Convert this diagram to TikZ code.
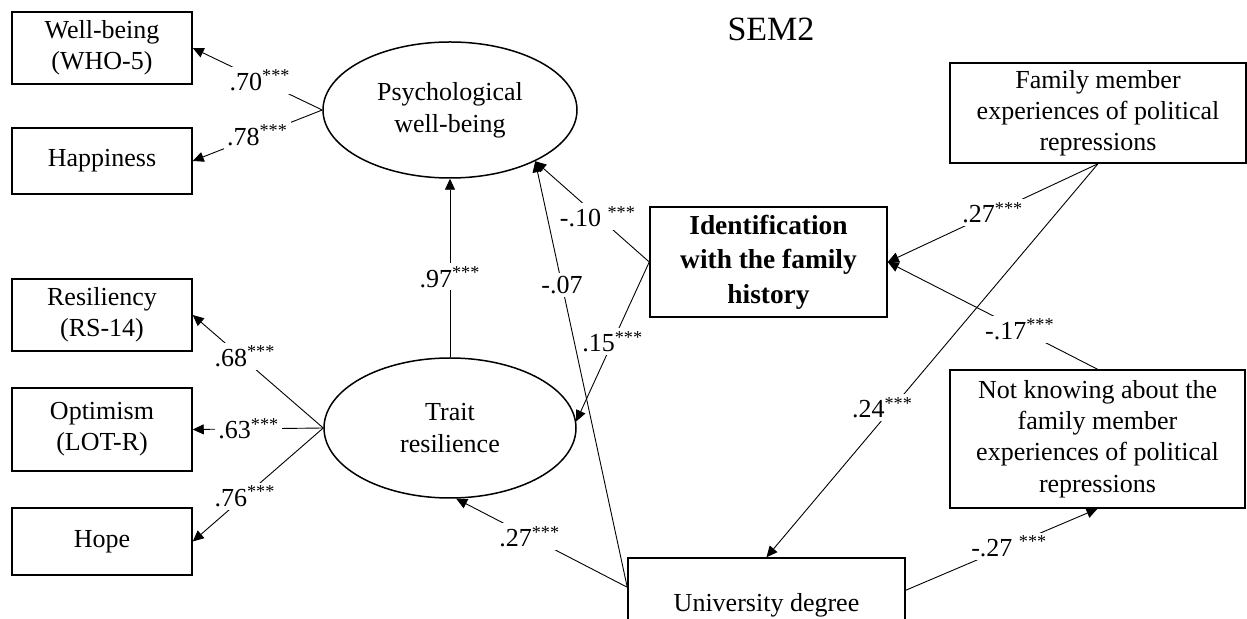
\documentclass[tikz,border=0pt]{standalone}
\usepackage{fontspec}
\setmainfont{Liberation Serif}
\usetikzlibrary{arrows.meta,shapes.geometric,calc}
\begin{document}
\begin{tikzpicture}[x=0.5pt,y=-0.5pt,
  box/.style={draw,line width=0.75pt,rectangle,inner sep=0pt,align=center,font=\fontsize{13pt}{15.6pt}\selectfont},
  boldbox/.style={box,font=\fontsize{13.7pt}{17.3pt}\selectfont\bfseries},
  lat/.style={draw,line width=0.75pt,ellipse,inner sep=0pt,align=center,font=\fontsize{13pt}{16pt}\selectfont},
  conn/.style={line width=0.45pt,-{Triangle[length=5.5pt,width=5pt]}},
  lbl/.style={fill=white,inner sep=1.5pt,font=\fontsize{13pt}{14pt}\selectfont}]
\useasboundingbox (0,0) rectangle (1247,619);
\clip (0,0) rectangle (1247,619);
% title
\node[font=\fontsize{17pt}{20pt}\selectfont] (title) at (771,29) {SEM2};
% indicators
\node[box,minimum width=90pt,minimum height=36pt] (wb) at (102,48) {Well-being\\(WHO-5)};
\node[box,minimum width=90pt,minimum height=33pt] (happ) at (102,161) {Happiness};
\node[box,minimum width=90pt,minimum height=36pt] (res) at (102,315) {Resiliency\\(RS-14)};
\node[box,minimum width=90pt,minimum height=41.5pt] (opt) at (102,429.5) {Optimism\\(LOT-R)};
\node[box,minimum width=90pt,minimum height=33.5pt] (hope) at (102,541.5) {Hope};
% latent
\node[lat,minimum width=127pt,minimum height=68pt] (psych) at (450,110) {Psychological\\well-being};
\node[lat,minimum width=126pt,minimum height=70pt] (trait) at (450,428) {Trait\\resilience};
% observed
\node[boldbox,minimum width=118.5pt,minimum height=55pt] (id) at (768.5,262) {Identification\\with the family\\history};
\node[box,minimum width=148pt,minimum height=50pt] (fam) at (1098,113) {Family member\\experiences of political\\repressions};
\node[box,minimum width=147.5pt,minimum height=69pt] (nk) at (1097.5,439) {Not knowing about the\\family member\\experiences of political\\repressions};
\node[box,minimum width=138.5pt,minimum height=47pt] (univ) at (766.5,605) {University degree};
\coordinate (u1) at ($(univ.north west)+(0,30)$);
\coordinate (u2) at ($(univ.north east)+(0,33)$);
% loadings
\draw[conn] (psych.west) -- node[lbl,pos=0.48]{.70\textsuperscript{***}} (wb.east);
\draw[conn] (psych.west) -- node[lbl,pos=0.5]{.78\textsuperscript{***}} (happ.east);
\draw[conn] (trait.west) -- node[lbl,pos=0.6,yshift=2pt]{.68\textsuperscript{***}} (res.east);
\draw[conn] (trait.west) -- node[lbl,pos=0.57]{.63\textsuperscript{***}} (opt.east);
\draw[conn] (trait.west) -- node[lbl,pos=0.6]{.76\textsuperscript{***}} (hope.east);
% structural paths
\draw[conn] (trait.north) -- node[lbl,pos=0.45]{.97\textsuperscript{***}} (psych.south);
\draw[conn] (id.west) -- node[lbl,pos=0.45]{-.10 \textsuperscript{***}} (psych.-31);
\draw[conn] (id.west) -- node[lbl,pos=0.5]{.15\textsuperscript{***}} (trait.3);
\draw[conn] (u1) -- node[lbl,pos=0.71]{-.07} (psych.-31);
\draw[conn] (u1) -- node[lbl,pos=0.57]{.27\textsuperscript{***}} (trait.-85);
\draw[conn] (fam.south) -- node[lbl,pos=0.5]{.27\textsuperscript{***}} (id.east);
\draw[conn] (nk.north) -- node[lbl,pos=0.37]{-.17\textsuperscript{***}} (id.east);
\draw[conn] (fam.south) -- node[lbl,pos=0.62,xshift=-5pt]{.24\textsuperscript{***}} (univ.north);
\draw[conn] (u2) -- node[lbl,pos=0.54]{-.27 \textsuperscript{***}} (nk.south);
\end{tikzpicture}
\end{document}
